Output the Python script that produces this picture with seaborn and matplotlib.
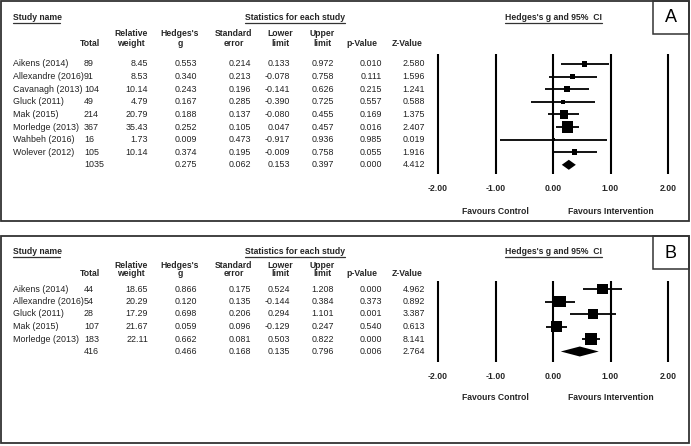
import matplotlib.pyplot as plt
import matplotlib.transforms as mtransforms
from matplotlib.patches import Rectangle
import pandas as pd
import seaborn as sns

sns.set_theme(style='white')
plt.rcParams['font.family'] = ['Liberation Sans', 'DejaVu Sans']

# ---- panel A data
studies_a = ['Aikens (2014)', 'Allexandre (2016)', 'Cavanagh (2013)', 'Gluck (2011)',
             'Mak (2015)', 'Morledge (2013)', 'Wahbeh (2016)', 'Wolever (2012)']
total_a = [89, 91, 104, 49, 214, 367, 16, 105]
weight_a = [8.45, 8.53, 10.14, 4.79, 20.79, 35.43, 1.73, 10.14]
g_a = [0.553, 0.340, 0.243, 0.167, 0.188, 0.252, 0.009, 0.374]
se_a = [0.214, 0.213, 0.196, 0.285, 0.137, 0.105, 0.473, 0.195]
lower_a = [0.133, -0.078, -0.141, -0.390, -0.080, 0.047, -0.917, -0.009]
upper_a = [0.972, 0.758, 0.626, 0.725, 0.455, 0.457, 0.936, 0.758]
p_a = [0.010, 0.111, 0.215, 0.557, 0.169, 0.016, 0.985, 0.055]
z_a = [2.580, 1.596, 1.241, 0.588, 1.375, 2.407, 0.019, 1.916]
# pooled: total, g, se, lower, upper, p, z
pooled_a = [1035, 0.275, 0.062, 0.153, 0.397, 0.000, 4.412]

# ---- panel B data
studies_b = ['Aikens (2014)', 'Allexandre (2016)', 'Gluck (2011)', 'Mak (2015)',
             'Morledge (2013)']
total_b = [44, 54, 28, 107, 183]
weight_b = [18.65, 20.29, 17.29, 21.67, 22.11]
g_b = [0.866, 0.120, 0.698, 0.059, 0.662]
se_b = [0.175, 0.135, 0.206, 0.096, 0.081]
lower_b = [0.524, -0.144, 0.294, -0.129, 0.503]
upper_b = [1.208, 0.384, 1.101, 0.247, 0.822]
p_b = [0.000, 0.373, 0.001, 0.540, 0.000]
z_b = [4.962, 0.892, 3.387, 0.613, 8.141]
pooled_b = [416, 0.466, 0.168, 0.135, 0.796, 0.006, 2.764]

ticks = [-2, -1, 0, 1, 2]
tick_labels = ['-2.00', '-1.00', '0.00', '1.00', '2.00']
headers = [('', 'Total'), ('Relative', 'weight'), ("Hedges's", 'g'),
           ('Standard', 'error'), ('Lower', 'limit'), ('Upper', 'limit'),
           ('', 'p-Value'), ('', 'Z-Value')]

W, H = 691, 446
FS = 6.4
HFS = 6.2
TXT = '#222222'

fig = plt.figure(figsize=(W / 100, H / 100), dpi=100)
bg = fig.add_axes([0, 0, 1, 1])
bg.set_xlim(0, W)
bg.set_ylim(H, 0)
bg.axis('off')

head_x = [100, 131, 180, 234, 280, 322, 362, 407]
val_x = [148, 197, 251, 290, 334, 382, 425]  # right edges


def draw_panel(lay, letter, studies, total, weight, g, se, lo, hi, p, z, pooled, smax):
    top, bottom = lay['box']
    bg.add_patch(Rectangle((1, top), 688, bottom - top, fill=False,
                           ec='#333333', lw=1.3))
    bg.add_patch(Rectangle((653, top), 36, 33, fill=False, ec='#333333', lw=1.1))
    bg.text(671, top + 17, letter, fontsize=13, ha='center', va='center', color='black')

    ty = lay['title']
    bg.text(13, ty, 'Study name', fontsize=HFS, fontweight='bold', va='center')
    bg.text(345, ty, 'Statistics for each study', fontsize=HFS, fontweight='bold',
            ha='right', va='center')
    bg.text(505, ty, "Hedges's g and 95%  CI", fontsize=HFS, fontweight='bold',
            va='center')
    for x0, x1 in [(13, 60), (245, 345), (505, 602)]:
        bg.plot([x0, x1], [ty + 5.5, ty + 5.5], color='#333333', lw=0.9)

    h1, h2 = lay['head']
    for i, (l1, l2) in enumerate(headers):
        ha = 'right' if i == 0 else 'center'
        bg.text(head_x[i], h1, l1, fontsize=HFS, fontweight='bold', ha=ha, va='center')
        bg.text(head_x[i], h2, l2, fontsize=HFS, fontweight='bold', ha=ha, va='center')

    row0, step = lay['row0'], lay['step']
    n = len(studies)
    for i in range(n):
        ry = row0 + step * i
        bg.text(13, ry, studies[i], fontsize=FS, va='center', color=TXT)
        bg.text(84, ry, str(total[i]), fontsize=FS, va='center', color=TXT)
        vals = [f'{weight[i]:.2f}', f'{g[i]:.3f}', f'{se[i]:.3f}', f'{lo[i]:.3f}',
                f'{hi[i]:.3f}', f'{p[i]:.3f}', f'{z[i]:.3f}']
        for x, v in zip(val_x, vals):
            bg.text(x, ry, v, fontsize=FS, ha='right', va='center', color=TXT)
    ry = row0 + step * n
    bg.text(84, ry, str(pooled[0]), fontsize=FS, va='center', color=TXT)
    for x, v in zip(val_x[1:], pooled[1:]):
        bg.text(x, ry, f'{v:.3f}', fontsize=FS, ha='right', va='center', color=TXT)

    # forest plot axes
    top_px, bot_px = lay['lines']
    left_px = 438 - 0.1 * 57.5
    ax = fig.add_axes([left_px / W, 1 - bot_px / H, 4.2 * 57.5 / W, (bot_px - top_px) / H])
    ax.set_facecolor('none')
    ax.set_xlim(-2.1, 2.1)
    ax.set_ylim(n + (bot_px - ry) / step, -(row0 - top_px) / step)
    for t in ticks:
        ax.axvline(t, color='black', lw=1.5)
    df = pd.DataFrame({'g': g, 'row': range(n), 'w': weight, 'lo': lo, 'hi': hi})
    ax.hlines(df['row'], df['lo'], df['hi'], color='black', lw=1.3)
    sns.scatterplot(data=df, x='g', y='row', size='w', sizes=(0, smax),
                    size_norm=(0, max(weight)), marker='s', color='black',
                    linewidth=0, legend=False, ax=ax)
    pg, plo, phi = pooled[1], pooled[3], pooled[4]
    h = 5 / step
    ax.fill([plo, pg, phi, pg], [n, n - h, n, n + h], color='black', lw=0)
    ax.set_xticks(ticks)
    ax.set_xticklabels(tick_labels, fontsize=HFS, fontweight='bold')
    ax.tick_params(axis='x', length=0, pad=lay['pad'])
    ax.set_yticks([])
    ax.set_xlabel('')
    ax.set_ylabel('')
    for s in ax.spines.values():
        s.set_visible(False)
    trans = mtransforms.blended_transform_factory(ax.transData, bg.transData)
    ax.text(-1, lay['fav'], 'Favours Control', transform=trans, fontsize=HFS,
            fontweight='bold', ha='center', va='center')
    ax.text(1, lay['fav'], 'Favours Intervention', transform=trans, fontsize=HFS,
            fontweight='bold', ha='center', va='center')


lay_a = dict(box=(1, 221), title=17, head=(34, 44), row0=64, step=12.6,
             lines=(54, 174), pad=7.5, fav=211)
lay_b = dict(box=(236, 443), title=251, head=(265, 274), row0=289, step=12.5,
             lines=(281, 362), pad=7.5, fav=398)

draw_panel(lay_a, 'A', studies_a, total_a, weight_a, g_a, se_a, lower_a, upper_a,
           p_a, z_a, pooled_a, 63)
draw_panel(lay_b, 'B', studies_b, total_b, weight_b, g_b, se_b, lower_b, upper_b,
           p_b, z_b, pooled_b, 72)

fig.savefig('out.png', dpi=100)
